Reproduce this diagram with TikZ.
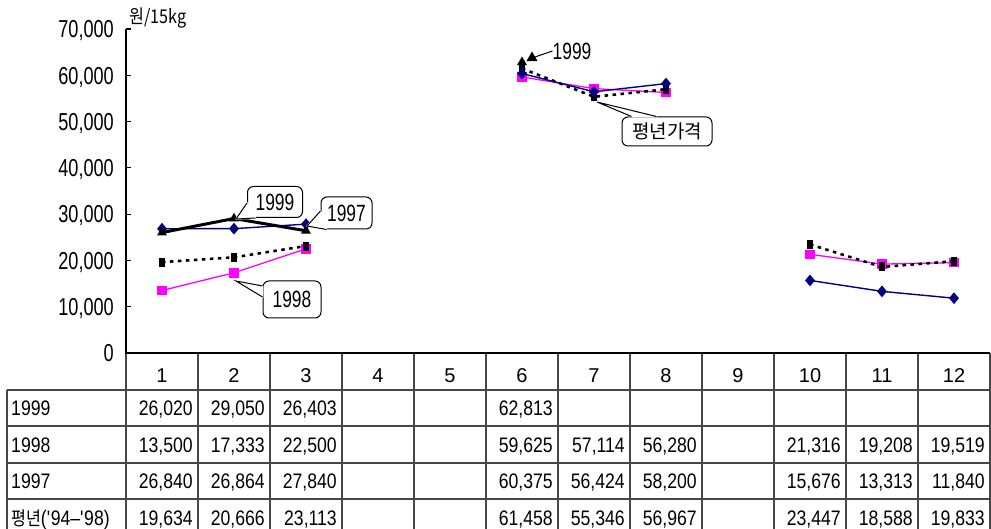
\documentclass[tikz,border=0pt]{standalone}
\usepackage{fontspec}
\setmainfont{Liberation Sans}
\newfontfamily\condfont[FakeStretch=0.74]{Liberation Sans}
\newfontfamily\tabfont[FakeStretch=0.84]{Liberation Sans}
\newfontfamily\krfont[FakeStretch=0.85]{Noto Sans CJK KR}
\newfontfamily\krwide{Noto Sans CJK KR}
\usetikzlibrary{shapes.geometric,calc}
\definecolor{navyc}{RGB}{0,0,128}
\definecolor{pinkc}{RGB}{255,0,255}
\definecolor{gridc}{RGB}{70,70,70}
\tikzset{
  axisline/.style={draw=black, line width=1.1pt},
  tabline/.style={draw=gridc, line width=1.1pt},
  ylab/.style={anchor=base east, inner sep=0, font=\condfont\fontsize{24.5}{24.5}\selectfont},
  mlab/.style={anchor=base, inner sep=0, font=\fontsize{20}{20}\selectfont},
  numlab/.style={anchor=base east, inner sep=0, font=\tabfont\fontsize{21}{21}\selectfont},
  rowlab/.style={anchor=base west, inner sep=0, font=\tabfont\fontsize{21}{21}\selectfont},
  l99/.style={draw=black, line width=3pt, line join=round},
  l98/.style={draw=pinkc, line width=1.3pt},
  l97/.style={draw=navyc, line width=1.4pt},
  lavg/.style={draw=black, line width=2.6pt, dash pattern=on 3.5pt off 4.5pt},
  mk99/.style={regular polygon, regular polygon sides=3, fill=black, minimum size=11.5pt, inner sep=0},
  mk98/.style={rectangle, fill=pinkc, minimum size=9.5pt, inner sep=0},
  mk97/.style={diamond, fill=navyc, minimum width=10pt, minimum height=12pt, inner sep=0},
  mkavg/.style={rectangle, fill=black, minimum width=6pt, minimum height=9pt, inner sep=0},
  callbox/.style={draw=black, fill=white, line width=1pt, rounded corners=6pt, inner sep=0, font=\condfont\fontsize{23.5}{23.5}\selectfont},
  callline/.style={draw=black, line width=1pt, line join=miter},
  callcover/.style={fill=white, draw=white, line width=1.6pt, line join=round},
}
\begin{document}
\begin{tikzpicture}[x=1pt,y=-1pt]
\useasboundingbox (0,0) rectangle (991,529);
% table grid
\foreach \yy in {390,426,463,499} \draw[tabline] (7,\yy) -- (990,\yy);
\draw[tabline] (7,390) -- (7,529);
\foreach \k in {1,...,12} \draw[tabline] ({126+72*\k},353) -- ({126+72*\k},529);
\draw[tabline] (126,353) -- (126,529);
% axes
\draw[axisline] (126,29) -- (126,353) -- (990,353);
\foreach \v in {10,20,...,70} \draw[axisline] (126,{353-4.629*\v}) -- (131,{353-4.629*\v});
% y labels
\foreach \v/\t in {0/0,10/{10,000},20/{20,000},30/{30,000},40/{40,000},50/{50,000},60/{60,000},70/{70,000}}
  \node[ylab] (y\v) at (114,{353-4.629*\v+8.8}) {\t};
\node[inner sep=0, anchor=base west, font=\krfont\fontsize{19}{19}\selectfont] (unit) at (129,24) {원/15kg};
% month header
\foreach \m in {1,...,12} \node[mlab] (h\m) at ({162+72*(\m-1)},382) {\m};
% row labels
\node[rowlab] (r1) at (11,415.5) {1999};
\node[rowlab] (r2) at (11,452) {1998};
\node[rowlab] (r3) at (11,488.5) {1997};
\node[rowlab] (r4) at (11,525.5) {{\krfont\fontsize{19}{19}\selectfont 평년}(\textquotesingle94\textendash\textquotesingle98)};
% table values
\foreach \m/\t in {1/{26,020},2/{29,050},3/{26,403},6/{62,813}}
  \node[numlab] (va\m) at ({126+72*\m-5},415.5) {\t};
\foreach \m/\t in {1/{13,500},2/{17,333},3/{22,500},6/{59,625},7/{57,114},8/{56,280},10/{21,316},11/{19,208},12/{19,519}}
  \node[numlab] (vb\m) at ({126+72*\m-5},452) {\t};
\foreach \m/\t in {1/{26,840},2/{26,864},3/{27,840},6/{60,375},7/{56,424},8/{58,200},10/{15,676},11/{13,313},12/{11,840}}
  \node[numlab] (vg\m) at ({126+72*\m-5},488.5) {\t};
\foreach \m/\t in {1/{19,634},2/{20,666},3/{23,113},6/{61,458},7/{55,346},8/{56,967},10/{23,447},11/{18,588},12/{19,833}}
  \node[numlab] (vn\m) at ({126+72*\m-5},525.5) {\t};
% data coordinates
\foreach \m/\v in {1/26.020,2/29.050,3/26.403,6/62.813}
  \coordinate (a\m) at ({162+72*(\m-1)},{353-4.629*\v});
\foreach \m/\v in {1/13.500,2/17.333,3/22.500,6/59.625,7/57.114,8/56.280,10/21.316,11/19.208,12/19.519}
  \coordinate (b\m) at ({162+72*(\m-1)},{353-4.629*\v});
\foreach \m/\v in {1/26.840,2/26.864,3/27.840,6/60.375,7/56.424,8/58.200,10/15.676,11/13.313,12/11.840}
  \coordinate (g\m) at ({162+72*(\m-1)},{353-4.629*\v});
\foreach \m/\v in {1/19.634,2/20.666,3/23.113,6/61.458,7/55.346,8/56.967,10/23.447,11/18.588,12/19.833}
  \coordinate (n\m) at ({162+72*(\m-1)},{353-4.629*\v});
% 1998
\draw[l98] (b1)--(b2)--(b3) (b6)--(b7)--(b8) (b10)--(b11)--(b12);
\foreach \m in {1,2,3,6,7,8,10,11,12} \node[mk98] (mb\m) at (b\m) {};
% average
\draw[lavg] (n1)--(n2)--(n3) (n6)--(n7)--(n8) (n10)--(n11)--(n12);
\foreach \m in {1,2,3,6,7,8,10,11,12} \node[mkavg] (mn\m) at (n\m) {};
% 1997
\draw[l97] (g1)--(g2)--(g3) (g6)--(g7)--(g8) (g10)--(g11)--(g12);
\foreach \m in {1,2,3,6,7,8,10,11,12} \node[mk97] (mg\m) at (g\m) {};
% 1999
\draw[l99] (a1)--(a2)--(a3);
\foreach \m in {1,2,3,6} \node[mk99] (ma\m) at (a\m) {};
% callout 1999
\node[callbox, minimum width=55pt, minimum height=31pt] (ca) at (275,202) {1999};
\coordinate (ta) at (236,219);
\filldraw[callcover] ($(ca.west)+(0,1)$) -- (ta) -- ($(ca.south west)+(8.5,0)$) -- cycle;
\draw[callline] ($(ca.west)+(0,1)$) -- (ta) -- ($(ca.south west)+(8.5,0)$);
% callout 1997
\node[callbox, minimum width=51pt, minimum height=32pt] (cb) at (346.5,213) {1997};
\coordinate (tb) at (307,226);
\filldraw[callcover] ($(cb.west)+(0,-2)$) -- (tb) -- ($(cb.south west)+(6,0)$) -- cycle;
\draw[callline] ($(cb.west)+(0,-2)$) -- (tb) -- ($(cb.south west)+(6,0)$);
% callout 1998
\node[callbox, minimum width=58pt, minimum height=37pt] (cc) at (292,299.5) {1998};
\coordinate (tc) at (236,281);
\filldraw[callcover] ($(cc.west)+(0,-13.5)$) -- (tc) -- ($(cc.west)+(0,-2.5)$) -- cycle;
\draw[callline] ($(cc.west)+(0,-13.5)$) -- (tc) -- ($(cc.west)+(0,-2.5)$);
% callout average price
\node[callbox, minimum width=90pt, minimum height=29pt, font=\krwide\fontsize{19}{19}\selectfont] (cd) at (667,131.5) {평년가격};
\coordinate (td) at (597,102);
\filldraw[callcover] ($(cd.north west)+(10,0)$) -- (td) -- ($(cd.north west)+(35,0)$) -- cycle;
\draw[callline] ($(cd.north west)+(10,0)$) -- (td) -- ($(cd.north west)+(35,0)$);
% label 1999 at June
\node[inner sep=0, font=\condfont\fontsize{23.5}{23.5}\selectfont] (l6) at (572,51) {1999};
\coordinate (t6) at (532,58);
\draw[callline] (l6.west) -- (t6);
\node[mk99, minimum size=13pt] (m6) at (t6) {};
\end{tikzpicture}
\end{document}
